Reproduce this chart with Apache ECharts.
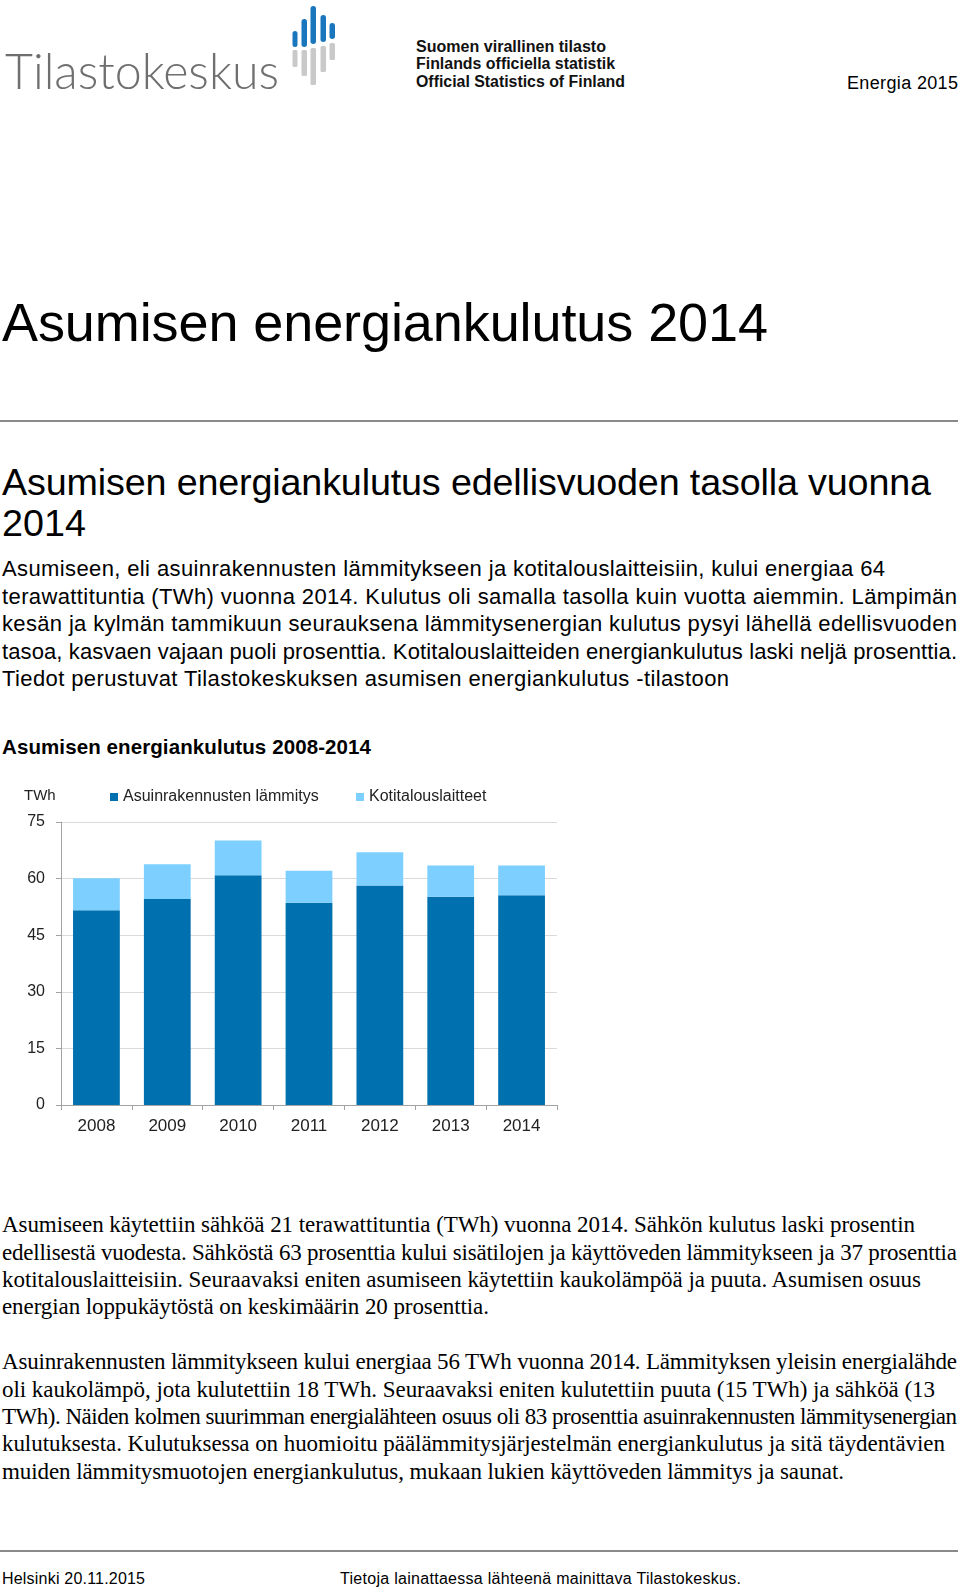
<!DOCTYPE html>
<html><head><meta charset="utf-8">
<script src="https://cdn.jsdelivr.net/npm/echarts@6/dist/echarts.min.js"></script>
<style>
html,body{margin:0;padding:0;background:#fff;}
body{width:960px;height:1592px;position:relative;overflow:hidden;}
.t{position:absolute;white-space:nowrap;line-height:1;color:#000;top:0;}
.sans{font-family:"Liberation Sans",Arial,sans-serif;}
.serif{font-family:"Liberation Serif","Times New Roman",serif;}
.narrow{font-family:"Liberation Sans Narrow","Arial Narrow","Liberation Sans",sans-serif;font-weight:bold;color:#111;}
.rule{position:absolute;left:0;width:958px;height:2px;background:#8a8a8a;}
#chart{position:absolute;left:0;top:760px;width:600px;height:400px;}
#logo{position:absolute;left:0;top:0;}
</style></head><body>

<svg id="logo" width="400" height="100" viewBox="0 0 400 100">
  <g fill="#1a76bd">
    <rect x="292.5" y="31" width="5" height="16" rx="2.5"/>
    <rect x="301.5" y="19" width="5.5" height="28" rx="2.7"/>
    <rect x="310.5" y="6" width="5.5" height="38" rx="2.7"/>
    <rect x="320.5" y="15" width="5.5" height="27" rx="2.7"/>
    <rect x="329.5" y="23" width="5.5" height="16" rx="2.7"/>
  </g>
  <g fill="#c9c9c9">
    <rect x="292.5" y="50" width="5" height="17" rx="1.5"/>
    <rect x="301.5" y="50" width="5.5" height="26" rx="1.5"/>
    <rect x="310.5" y="48" width="5.5" height="37" rx="1.5"/>
    <rect x="320.5" y="46" width="5.5" height="26" rx="1.5"/>
    <rect x="329.5" y="43" width="5.5" height="17" rx="1.5"/>
  </g>
</svg>

<div class="t" data-b="89" data-w="274" data-mode="sx" style="left:5px;font-family:Lato,'Liberation Sans',sans-serif;font-weight:300;font-size:50px;color:#6f6f6f">Tilastokeskus</div>
<div class="t narrow" data-b="52" data-w="190" data-mode="sx" style="left:416px;font-size:16px">Suomen virallinen tilasto</div>
<div class="t narrow" data-b="69" data-w="199" data-mode="sx" style="left:416px;font-size:16px">Finlands officiella statistik</div>
<div class="t narrow" data-b="87" data-w="209" data-mode="sx" style="left:416px;font-size:16px">Official Statistics of Finland</div>
<div class="t sans" data-b="89" data-w="111" style="left:847px;font-size:18px">Energia 2015</div>

<div class="t sans" data-b="341" data-w="766" style="left:2px;font-size:54px">Asumisen energiankulutus 2014</div>
<div class="rule" style="top:420px"></div>

<div class="t sans" data-b="495" data-w="929" style="left:2px;font-size:37.7px">Asumisen energiankulutus edellisvuoden tasolla vuonna</div>
<div class="t sans" data-b="536" style="left:2px;font-size:37.7px">2014</div>

<div class="t sans" data-b="576" data-w="883" style="left:2px;font-size:22px">Asumiseen, eli asuinrakennusten lämmitykseen ja kotitalouslaitteisiin, kului energiaa 64</div>
<div class="t sans" data-b="604" data-w="955" style="left:2px;font-size:22px">terawattituntia (TWh) vuonna 2014. Kulutus oli samalla tasolla kuin vuotta aiemmin. Lämpimän</div>
<div class="t sans" data-b="631" data-w="955" style="left:2px;font-size:22px">kesän ja kylmän tammikuun seurauksena lämmitysenergian kulutus pysyi lähellä edellisvuoden</div>
<div class="t sans" data-b="658.5" data-w="955" style="left:2px;font-size:22px">tasoa, kasvaen vajaan puoli prosenttia. Kotitalouslaitteiden energiankulutus laski neljä prosenttia.</div>
<div class="t sans" data-b="686" data-w="727" style="left:2px;font-size:22px">Tiedot perustuvat Tilastokeskuksen asumisen energiankulutus -tilastoon</div>

<div class="t sans" data-b="754" data-w="369" style="left:2px;font-size:20.5px;font-weight:bold">Asumisen energiankulutus 2008-2014</div>

<div id="chart"></div>

<div class="t serif" data-b="1232" data-w="913" style="left:2px;font-size:23px">Asumiseen käytettiin sähköä 21 terawattituntia (TWh) vuonna 2014. Sähkön kulutus laski prosentin</div>
<div class="t serif" data-b="1259.5" data-w="955" style="left:2px;font-size:23px">edellisestä vuodesta. Sähköstä 63 prosenttia kului sisätilojen ja käyttöveden lämmitykseen ja 37 prosenttia</div>
<div class="t serif" data-b="1287" data-w="919" style="left:2px;font-size:23px">kotitalouslaitteisiin. Seuraavaksi eniten asumiseen käytettiin kaukolämpöä ja puuta. Asumisen osuus</div>
<div class="t serif" data-b="1314" data-w="487" style="left:2px;font-size:23px">energian loppukäytöstä on keskimäärin 20 prosenttia.</div>

<div class="t serif" data-b="1369" data-w="955" style="left:2px;font-size:23px">Asuinrakennusten lämmitykseen kului energiaa 56 TWh vuonna 2014. Lämmityksen yleisin energialähde</div>
<div class="t serif" data-b="1396.5" data-w="933" style="left:2px;font-size:23px">oli kaukolämpö, jota kulutettiin 18 TWh. Seuraavaksi eniten kulutettiin puuta (15 TWh) ja sähköä (13</div>
<div class="t serif" data-b="1424" data-w="955" style="left:2px;font-size:23px">TWh). Näiden kolmen suurimman energialähteen osuus oli 83 prosenttia asuinrakennusten lämmitysenergian</div>
<div class="t serif" data-b="1451" data-w="943" style="left:2px;font-size:23px">kulutuksesta. Kulutuksessa on huomioitu päälämmitysjärjestelmän energiankulutus ja sitä täydentävien</div>
<div class="t serif" data-b="1478.5" data-w="842" style="left:2px;font-size:23px">muiden lämmitysmuotojen energiankulutus, mukaan lukien käyttöveden lämmitys ja saunat.</div>

<div class="rule" style="top:1550px"></div>
<div class="t sans" data-b="1584" data-w="143" style="left:2px;font-size:16px">Helsinki 20.11.2015</div>
<div class="t sans" data-b="1584" data-w="401" style="left:340px;font-size:16px">Tietoja lainattaessa lähteenä mainittava Tilastokeskus.</div>

<script>
// ---- chart data ----
const years = ['2008', '2009', '2010', '2011', '2012', '2013', '2014'];
const heating = [51.6, 54.6, 60.9, 53.6, 58.2, 55.2, 55.6];      // Asuinrakennusten lämmitys
const appliances = [8.5, 9.2, 9.2, 8.5, 8.8, 8.3, 7.9];          // Kotitalouslaitteet
const seriesNames = ['Asuinrakennusten lämmitys', 'Kotitalouslaitteet'];
const unitLabel = 'TWh';
const yMin = 0, yMax = 75, yStep = 15;

function layoutText() {
  document.querySelectorAll('.t').forEach(function (el) {
    const mk = document.createElement('span');
    mk.style.cssText = 'display:inline-block;width:0;height:0;vertical-align:baseline;';
    el.appendChild(mk);
    const w = +el.dataset.w;
    if (w) {
      const nat = el.getBoundingClientRect().width;
      if (el.dataset.mode === 'sx') {
        el.style.transformOrigin = '0 0';
        el.style.transform = 'scaleX(' + (w / nat) + ')';
      } else {
        const n = el.textContent.length;
        el.style.letterSpacing = ((w - nat) / (n - 1)) + 'px';
      }
    }
    const off = mk.getBoundingClientRect().bottom - el.getBoundingClientRect().top;
    el.style.top = (+el.dataset.b - off) + 'px';
  });
}
layoutText();

const axisGrey = '#a3a3a3';
const chart = echarts.init(document.getElementById('chart'));
chart.setOption({
  animation: false,
  textStyle: { fontFamily: '"Liberation Sans", Arial, sans-serif' },
  legend: [
    { data: [seriesNames[0]], left: 105, top: 24, itemWidth: 8, itemHeight: 8, icon: 'rect',
      textStyle: { fontSize: 16, color: '#222' } },
    { data: [seriesNames[1]], left: 351, top: 24, itemWidth: 8, itemHeight: 8, icon: 'rect',
      textStyle: { fontSize: 16, color: '#222' } }
  ],
  graphic: [{ type: 'text', left: 24, top: 28, style: { text: unitLabel, fontSize: 15, fill: '#222', fontFamily: '"Liberation Sans", Arial, sans-serif' } }],
  grid: { left: 61, top: 62, width: 496, height: 283, outerBoundsMode: 'none' },
  xAxis: {
    type: 'category', data: years,
    axisLine: { lineStyle: { color: axisGrey, width: 1 } },
    axisTick: { show: true, length: 5, lineStyle: { color: axisGrey } },
    axisLabel: { fontSize: 17, color: '#222', margin: 13 }
  },
  yAxis: {
    type: 'value', min: yMin, max: yMax, interval: yStep,
    axisLine: { show: true, lineStyle: { color: axisGrey, width: 1 } },
    axisTick: { show: true, length: 5, lineStyle: { color: axisGrey } },
    axisLabel: { fontSize: 16, color: '#222', margin: 16 },
    splitLine: { show: true, lineStyle: { color: '#dadada', width: 1 } }
  },
  series: [
    { name: seriesNames[0], type: 'bar', stack: 'total', data: heating, barCategoryGap: '34%',
      itemStyle: { color: '#0070ae' } },
    { name: seriesNames[1], type: 'bar', stack: 'total', data: appliances,
      itemStyle: { color: '#7dcfff' } }
  ]
});
</script>
</body></html>
